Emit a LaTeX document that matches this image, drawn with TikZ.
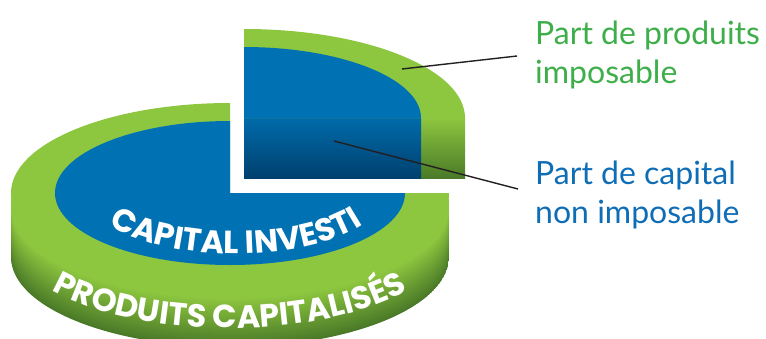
\documentclass[tikz,border=0pt]{standalone}
\usepackage{fontspec}
\setmainfont{Lato}
\newfontfamily\popfont{Poppins}
\usetikzlibrary{decorations.text}
\definecolor{lgreen}{HTML}{8DC63F}
\definecolor{dgreen}{HTML}{4A7A28}
\definecolor{mblue}{HTML}{0071B3}
\definecolor{fblue}{HTML}{006BAA}
\definecolor{dblue}{HTML}{00406E}
\definecolor{tgreen}{HTML}{3DAE49}
\definecolor{tblue}{HTML}{0F6DB6}
\definecolor{leadc}{HTML}{231F20}
\tikzset{
  leader/.style={draw=leadc, line width=1.4pt},
  lab/.style={inner sep=0pt, align=left, font=\fontsize{32}{39}\selectfont},
}
\begin{document}
\begin{tikzpicture}[x=1pt,y=-1pt]
\useasboundingbox (0,0) rectangle (766,338);
% ---- main pie: side wall with gradient
\begin{scope}
  \clip (11,193) arc[start angle=180,end angle=0,x radius=219,y radius=90]
        -- (449,257) arc[start angle=0,end angle=180,x radius=219,y radius=90] -- cycle;
  \foreach \d in {64,62,...,0}{
    \pgfmathsetmacro\p{max(0,min(100,(\d-16)*100/48))}
    \fill[dgreen!\p!lgreen] (11,{193+\d}) arc[start angle=180,end angle=0,x radius=219,y radius=90] -- cycle;
  }
\end{scope}
% ---- main pie: top face (three quarters)
\fill[lgreen] (230,193) -- (230,103) arc[start angle=270,end angle=0,x radius=219,y radius=90] -- cycle;
\fill[mblue] (230,193) -- (230,121) arc[start angle=270,end angle=0,x radius=175,y radius=72] -- cycle;
% ---- curved texts
\path[decorate, decoration={text along path, text color=white, text align=center,
   text={|\popfont\bfseries\fontsize{32}{34}\selectfont|CAPITAL INVESTI}}]
   (88,194) arc[start angle=180,end angle=0,x radius=148,y radius=60];
\path[decorate, decoration={text along path, text color=white, text align=center,
   text={|\popfont\bfseries\fontsize{32}{34}\selectfont|PRODUITS CAPITALISÉS}}]
   (11,238) arc[start angle=180,end angle=0,x radius=219,y radius=90];
% ---- lifted quarter: front face
\shade[top color=lgreen, bottom color=dgreen] (244,118) rectangle (465,178);
\shade[top color=fblue, bottom color=dblue] (244,118) rectangle (421,178);
% ---- lifted quarter: top face
\fill[lgreen] (244,118) -- (244,29) arc[start angle=270,end angle=360,x radius=221,y radius=89] -- cycle;
\fill[mblue] (244,118) -- (244,47) arc[start angle=270,end angle=360,x radius=177,y radius=71] -- cycle;
% ---- labels
\node[lab, text=tgreen, anchor=base west] (labA) at (535,83) {Part de produits\\imposable};
\node[lab, text=tblue, anchor=base west] (labB) at (535,223) {Part de capital\\non imposable};
% ---- leader lines
\coordinate (ringPt) at (402,69);
\coordinate (ringEnd) at (517,56);
\coordinate (discPt) at (334,141);
\coordinate (discEnd) at (518,189);
\draw[leader] (ringPt) -- (ringEnd);
\draw[leader] (discPt) -- (discEnd);
\end{tikzpicture}
\end{document}
